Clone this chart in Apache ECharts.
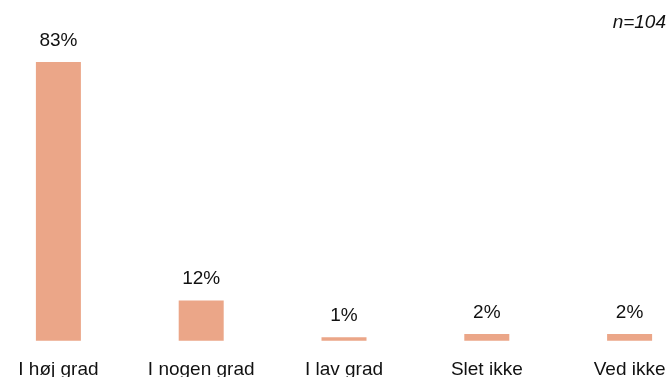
<!DOCTYPE html>
<html>
<head>
<meta charset="utf-8">
<script src="https://cdn.jsdelivr.net/npm/echarts@6/dist/echarts.min.js"></script>
<style>
html,body{margin:0;padding:0;background:#fff;}
#c{width:669px;height:377px;}
</style>
</head>
<body>
<div id="c"></div>
<script>
const categories = ['I høj grad', 'I nogen grad', 'I lav grad', 'Slet ikke', 'Ved ikke'];
const values = [83, 12, 1, 2, 2];
const sampleNote = 'n=104';

const chart = echarts.init(document.getElementById('c'), null, {renderer: 'canvas'});
chart.setOption({
  animation: false,
  backgroundColor: '#ffffff',
  grid: {left: -13, width: 714, top: 5, bottom: 36.3, outerBoundsMode: 'none', containLabel: false},
  graphic: [{
    type: 'text', right: 3, top: 13,
    style: {text: sampleNote, font: 'italic 19px "Liberation Sans", Arial, sans-serif', fill: '#111'}
  }],
  xAxis: {
    type: 'category',
    data: categories,
    axisLine: {show: false},
    axisTick: {show: false},
    axisLabel: {
      interval: 0, margin: 20, color: '#111',
      fontFamily: '"Liberation Sans", Arial, sans-serif', fontSize: 19
    }
  },
  yAxis: {
    type: 'value', min: 0, max: 100, show: false,
    splitLine: {show: false}
  },
  series: [{
    type: 'bar',
    data: values,
    barWidth: 45,
    itemStyle: {color: '#EBA688'},
    label: {
      show: true, position: 'top', distance: 12,
      formatter: p => p.value + '%',
      color: '#111', fontFamily: '"Liberation Sans", Arial, sans-serif', fontSize: 19
    }
  }]
});
</script>
</body>
</html>
